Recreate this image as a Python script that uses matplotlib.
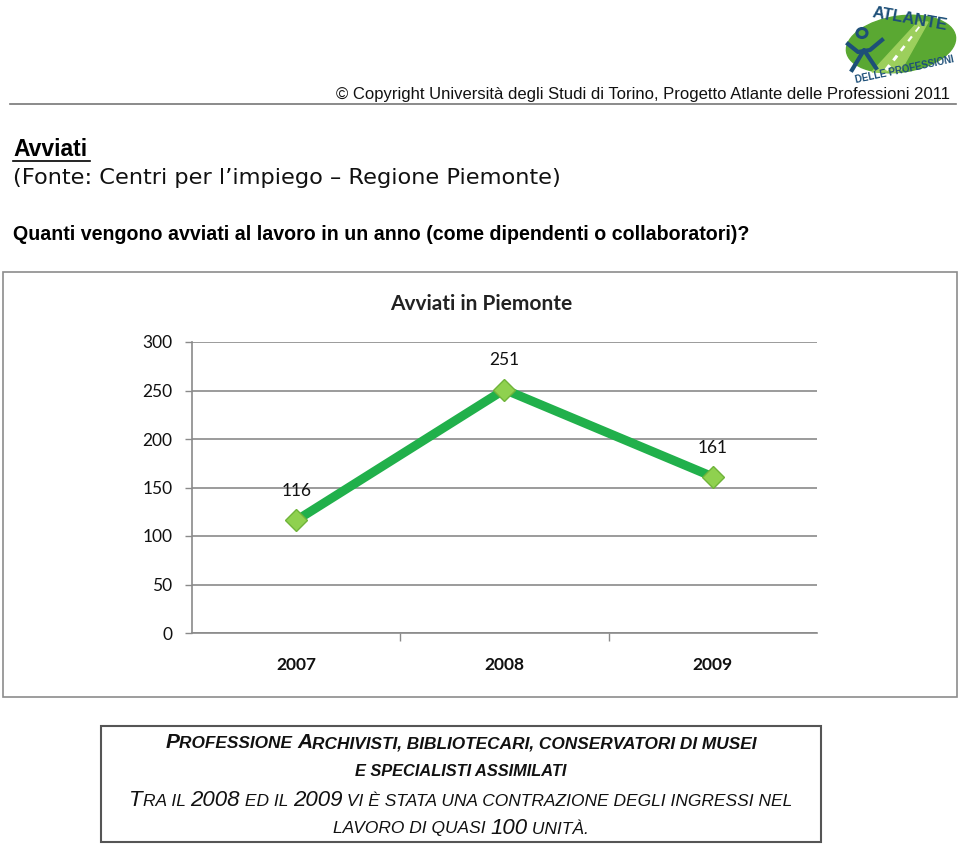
import numpy as np
import matplotlib.pyplot as plt
from matplotlib.patches import Rectangle, Ellipse, Polygon
from matplotlib.offsetbox import TextArea, HPacker, AnnotationBbox

# dati
anni = ["2007", "2008", "2009"]
avviati = [116, 251, 161]
y_ticks = [0, 50, 100, 150, 200, 250, 300]

verde_linea = '#21b04b'
verde_marker = '#8fd14f'
blu_logo = '#1d4f78'
W, H = 960, 844

def fx(x):
    return x / W

def fy(y):
    return 1 - y / H

fig = plt.figure(figsize=(9.6, 8.44), dpi=100)

# --- intestazione ---
fig.text(fx(950), fy(94), "© Copyright Università degli Studi di Torino, Progetto Atlante delle Professioni 2011",
         ha='right', va='center', fontsize=12, family='Liberation Sans', color='#111111')
fig.add_artist(plt.Line2D([fx(10), fx(956)], [fy(104), fy(104)], color='#777777', lw=1.2))

# logo (approssimato), coordinate in pixel con y verso il basso
lax = fig.add_axes([fx(840), fy(86), fx(120), 86 / H])
lax.set_xlim(840, 960)
lax.set_ylim(86, 0)
lax.axis('off')
lax.add_patch(Ellipse((901, 44), 110, 56, angle=-8, color='#5aa832'))
lax.add_patch(Polygon([[872, 72], [900, 72], [928, 22], [918, 22]], closed=True, color='#9ccf5c'))
for k in range(5):
    t0 = k / 5
    t1 = t0 + 0.1
    xa, ya = 886 + (923 - 886) * t0, 70 - 48 * t0
    xb, yb = 886 + (923 - 886) * t1, 70 - 48 * t1
    lax.plot([xa, xb], [ya, yb], color='white', lw=2.5 - 1.5 * t0, solid_capstyle='butt')
lax.text(910, 19, "ATLANTE", color=blu_logo, fontsize=12, ha='center', va='center',
         rotation=-10, family='Liberation Sans', fontweight='bold')
lax.text(905, 70, "DELLE PROFESSIONI", color=blu_logo, fontsize=7, ha='center', va='center',
         rotation=12, family='Liberation Sans', fontweight='bold')
lax.add_patch(Ellipse((862, 33), 10, 9, fill=False, ec=blu_logo, lw=2.2))
lax.plot([848, 858, 870, 882], [44, 52, 50, 40], color=blu_logo, lw=3)
lax.plot([852, 864, 876], [70, 50, 68], color=blu_logo, lw=3)

# titoli
fig.text(fx(13), fy(150), "Avviati", ha='left', va='center', fontsize=16.5, fontweight='bold',
         family='Liberation Sans')
fig.add_artist(plt.Line2D([fx(13), fx(90)], [fy(161), fy(161)], color='black', lw=1.2))
fig.text(fx(13), fy(178), "(Fonte: Centri per l\u2019impiego \u2013 Regione Piemonte)", ha='left', va='center',
         fontsize=16.2, family='DejaVu Sans', color='#111111')
fig.text(fx(13), fy(234), "Quanti vengono avviati al lavoro in un anno (come dipendenti o collaboratori)?",
         ha='left', va='center', fontsize=14.1, fontweight='bold',
         family=['Liberation Sans Narrow', 'Liberation Sans'])

# cornice del grafico
fig.add_artist(Rectangle((fx(3), fy(697)), fx(954), (697 - 272) / H, transform=fig.transFigure,
                         fill=False, ec='#8c8c8c', lw=1.2))
fig.text(fx(481), fy(304), "Avviati in Piemonte", ha='center', va='center', fontsize=15,
         fontweight='bold', family='Lato', color='#222222')

# --- grafico ---
ax = fig.add_axes([fx(192), fy(633), fx(817 - 192), (633 - 342) / H])
x = np.arange(len(anni))
ax.plot(x, avviati, color=verde_linea, lw=6.5, solid_joinstyle='miter', zorder=3)
ax.plot(x, avviati, linestyle='none', marker='D', markersize=11, markerfacecolor=verde_marker,
        markeredgecolor='#6fb43a', markeredgewidth=1, zorder=4)
for xi, v in zip(x, avviati):
    ax.annotate(str(v), (xi, v), xytext=(0, 21), textcoords='offset points', ha='center', va='center',
                fontsize=12.5, family='Lato', color='#111111')

ax.set_xlim(-0.5, len(anni) - 0.5)
ax.set_ylim(0, 300)
ax.set_yticks(y_ticks)
ax.set_yticklabels([str(v) for v in y_ticks], fontsize=12.5, family='Lato', color='#111111')
ax.yaxis.grid(True, color='#8a8a8a', lw=1.2)
ax.set_axisbelow(True)
ax.set_xticks(x)
ax.set_xticklabels(anni, fontsize=12.5, fontweight='bold', family='Lato', color='#111111')
ax.tick_params(axis='x', length=0, pad=17)
ax.tick_params(axis='y', length=5, width=1, color='#8a8a8a', pad=9)
ax.set_xticks([0.5, 1.5], minor=True)
ax.tick_params(axis='x', which='minor', length=6, width=1, color='#8a8a8a', direction='out')
for s in ['top', 'right']:
    ax.spines[s].set_visible(False)
ax.spines['left'].set_color('#8a8a8a')
ax.spines['bottom'].set_color('#8a8a8a')
ax.spines['left'].set_linewidth(1.2)
ax.spines['bottom'].set_linewidth(1.2)

# --- box in basso (maiuscoletto) ---
fig.add_artist(Rectangle((fx(101), fy(842)), fx(720), (842 - 726) / H, transform=fig.transFigure,
                         fill=False, ec='#555555', lw=1.5))

def maiuscoletto(parti, y, big, small, bold):
    kids = []
    for testo, grande in parti:
        kids.append(TextArea(testo, textprops=dict(fontsize=big if grande else small, style='italic',
                                                   fontweight='bold' if bold else 'normal',
                                                   family='Liberation Sans', color='#111111')))
    box = HPacker(children=kids, align='baseline', pad=0, sep=0)
    ab = AnnotationBbox(box, (0.5 * (fx(101) + fx(821)), fy(y)), xycoords='figure fraction',
                        frameon=False, box_alignment=(0.5, 0.5), pad=0)
    fig.add_artist(ab)

maiuscoletto([("P", True), ("ROFESSIONE ", False), ("A", True),
              ("RCHIVISTI, BIBLIOTECARI, CONSERVATORI DI MUSEI", False)], 743, 15, 12.4, True)
maiuscoletto([("E SPECIALISTI ASSIMILATI", False)], 772, 15, 11.8, True)
maiuscoletto([("T", True), ("RA IL ", False), ("2008", True), (" ED IL ", False), ("2009", True),
              (" VI È STATA UNA CONTRAZIONE DEGLI INGRESSI NEL", False)], 801, 16, 12.5, False)
maiuscoletto([("LAVORO DI QUASI ", False), ("100", True), (" UNITÀ.", False)], 828, 16, 12.5, False)

plt.savefig("out.png", dpi=100)
plt.close()
